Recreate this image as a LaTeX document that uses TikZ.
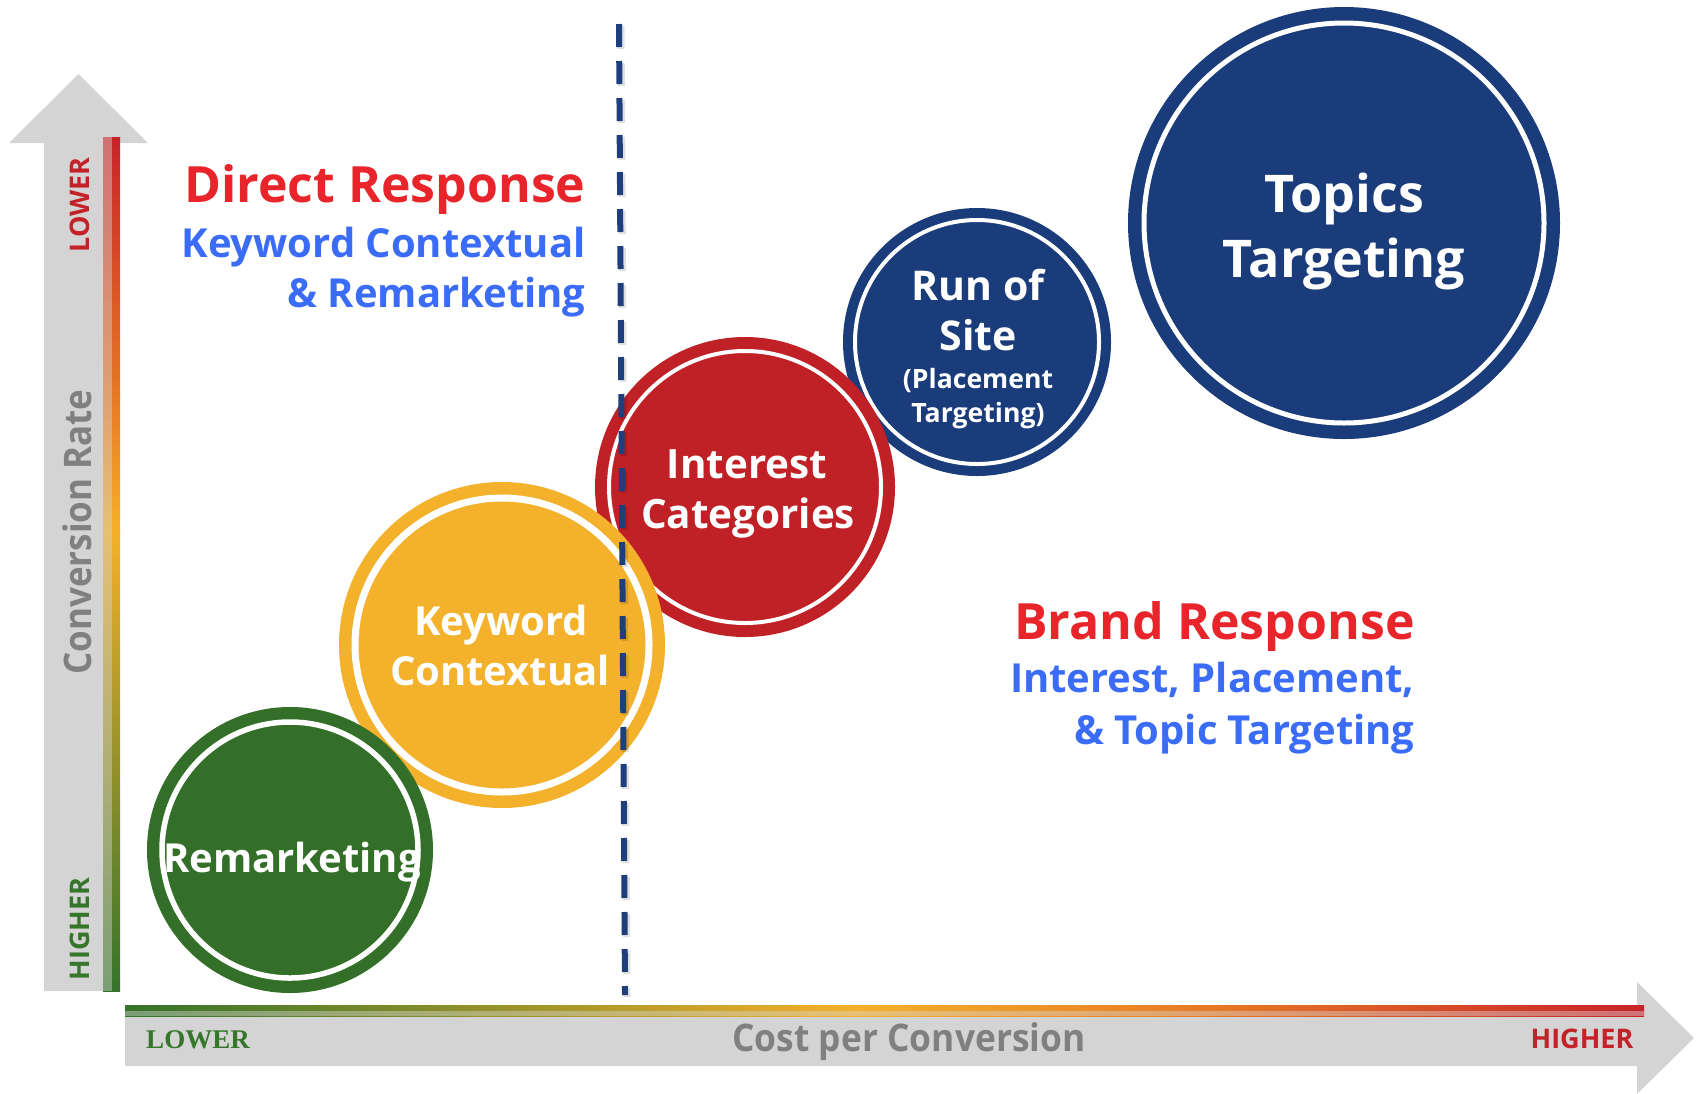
\documentclass[tikz,border=0pt]{standalone}
\usepackage{fontspec}
\setmainfont{Open Sans}
\newfontfamily\serifbf{Liberation Serif}
\definecolor{cgreen}{RGB}{51,111,40}
\definecolor{cyellow}{RGB}{243,177,44}
\definecolor{cred}{RGB}{192,33,38}
\definecolor{cnavy}{RGB}{27,60,122}
\definecolor{dnavy}{RGB}{31,62,124}
\definecolor{tred}{RGB}{232,37,42}
\definecolor{tblue}{RGB}{59,108,248}
\definecolor{agray}{RGB}{212,212,212}
\definecolor{lgray}{RGB}{128,128,128}
\definecolor{ggreen}{RGB}{52,115,42}
\definecolor{gyellow}{RGB}{245,176,42}
\definecolor{gorange}{RGB}{230,120,37}
\definecolor{gred}{RGB}{200,35,40}
\definecolor{lblgreen}{RGB}{53,118,42}
\definecolor{lblred}{RGB}{196,34,40}
\begin{document}
\begin{tikzpicture}[x=0.5pt,y=-0.5pt,
  bubble/.style={circle, minimum size=#1, inner sep=0pt, outer sep=0pt},
  ring/.style 2 args={path picture={\draw[white,line width=#1] (path picture bounding box.center) circle[radius=#2];}},
  clab/.style={anchor=base, inner sep=0pt, text=white, font=\fontsize{#1}{#1}\selectfont\bfseries},
  ttl/.style={anchor=base east, inner sep=0pt, text=tred, font=\fontsize{25}{30}\selectfont\bfseries},
  subt/.style={anchor=base east, inner sep=0pt, text=tblue, font=\fontsize{20}{24}\selectfont\bfseries},
  vlab/.style={rotate=90, inner sep=0pt, font=\fontsize{13.5}{14}\selectfont\bfseries},
  dashline/.style={draw=dnavy, line width=3pt, dash pattern=on 11.5pt off 7pt}
]
\useasboundingbox (0,0) rectangle (1696,1093);

% ---------- axes ----------
\fill[agray] (44,991) -- (44,143) -- (9,143) -- (78.5,74) -- (148,143) -- (113,143) -- (113,991) -- cycle;
\fill[agray] (125,1010) -- (1637,1010) -- (1637,982) -- (1694,1038) -- (1637,1094) -- (1637,1066) -- (125,1066) -- cycle;

% vertical gradient bar (top red -> bottom green)
\shade[top color=gred, bottom color=gorange] (103,137) rectangle (120,394);
\shade[top color=gorange, bottom color=gyellow] (103,393) rectangle (120,531);
\shade[top color=gyellow, bottom color=ggreen] (103,530) rectangle (120,991);
\fill[agray, opacity=0.45] (103,137) rectangle (112,991);

% horizontal gradient bar (left green -> right red)
\shade[left color=ggreen, right color=gyellow] (125,1005) rectangle (855,1016);
\shade[left color=gyellow, right color=gorange] (854,1005) rectangle (1221,1016);
\shade[left color=gorange, right color=gred] (1220,1005) rectangle (1644,1016);
\fill[agray, opacity=0.45] (125,1010.5) rectangle (1644,1016);

% axis labels
\node[vlab, text=lblred] (ylow) at (80,205) {LOWER};
\node[rotate=90, inner sep=0pt, text=lgray, font=\fontsize{19}{20}\selectfont\bfseries] (ytitle) at (77,532) {\scalebox{0.92}[1]{Conversion Rate}};
\node[vlab, text=lblgreen] (yhigh) at (80,929) {HIGHER};

\node[anchor=base, inner sep=0pt, text=lblgreen, font=\serifbf\fontsize{13.5}{14}\selectfont\bfseries] (xlow) at (198,1048) {LOWER};
\node[anchor=base, inner sep=0pt, text=lgray, font=\fontsize{19}{20}\selectfont\bfseries] (xtitle) at (909,1051) {\scalebox{0.93}[1]{Cost per Conversion}};
\node[anchor=base, inner sep=0pt, text=lblred, font=\fontsize{13.5}{14}\selectfont\bfseries] (xhigh) at (1582,1048) {HIGHER};

% ---------- bubbles (back to front) ----------
\node[bubble=216pt, fill=cnavy, ring={2.5pt}{100pt}] (topics) at (1344,223) {};
\node[bubble=134pt, fill=cnavy, ring={2pt}{61pt}] (runsite) at (977,342) {};
\node[bubble=150pt, fill=cred, ring={2pt}{68pt}] (interest) at (745,487) {};
\node[bubble=163pt, fill=cyellow, ring={3.5pt}{73.5pt}] (keyword) at (502,645) {};
\node[bubble=143pt, fill=cgreen, ring={2.75pt}{64pt}] (remark) at (290,850) {};

% bubble texts
\node[clab=26] (tp1) at (1344,212) {Topics};
\node[clab=26] (tp2) at (1344,277) {Targeting};
\node[clab=20.5] (rs1) at (978,300) {Run of};
\node[clab=20.5] (rs2) at (978,350) {Site};
\node[clab=13.3] (rs3) at (978,388) {(Placement};
\node[clab=13.3] (rs4) at (978,422) {Targeting)};
\node[clab=20.2] (ic1) at (747,478) {Interest};
\node[clab=20.2] (ic2) at (748,528) {Categories};
\node[clab=20] (kc1) at (501,635) {Keyword};
\node[clab=20] (kc2) at (500,685) {Contextual};
\node[clab=20] (rm1) at (292,872) {Remarketing};

% ---------- headings ----------
\node[ttl] (dr1) at (586,202) {Direct Response};
\node[subt] (dr2) at (586,257) {Keyword Contextual};
\node[subt] (dr3) at (586,307) {\& Remarketing};
\node[ttl] (br1) at (1415,639) {Brand Response};
\node[subt] (br2) at (1415,692) {Interest, Placement,};
\node[subt] (br3) at (1415,744) {\& Topic Targeting};

% ---------- divider ----------
\coordinate (dtop) at (619,24);
\coordinate (dbot) at (625,995);
\coordinate (stop) at (621,26);
\coordinate (sbot) at (627,997);
\draw[black, opacity=0.12, line width=3.5pt, dash pattern=on 11.5pt off 7pt] (stop) -- (sbot);
\draw[dashline] (dtop) -- (dbot);
\end{tikzpicture}
\end{document}
